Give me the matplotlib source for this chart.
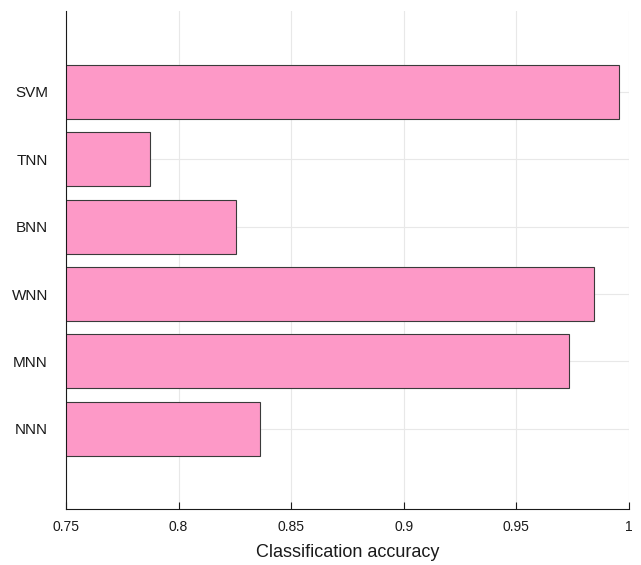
import matplotlib.pyplot as plt
plt.rcParams['font.family'] = ['Liberation Sans', 'DejaVu Sans']

models = ['NNN', 'MNN', 'WNN', 'BNN', 'TNN', 'SVM']
accuracy = [0.8361, 0.9735, 0.9845, 0.8255, 0.7872, 0.9957]
xticks = [0.75, 0.8, 0.85, 0.9, 0.95, 1.0]
xticklabels = ['0.75', '0.8', '0.85', '0.9', '0.95', '1']

fig = plt.figure(figsize=(6.41, 5.65), dpi=100)
ax = fig.add_axes([0.103, 0.0991, 0.878, 0.8814])

pos = list(range(1, len(models) + 1))
ax.barh(pos, accuracy, height=0.8, color='#fd99c7', edgecolor='#3a3a3a',
        linewidth=0.8, zorder=2)

# grid under the bars, tick marks on top of them
for t in xticks:
    ax.axvline(t, color='#e8e8e8', linewidth=0.8, zorder=1)
for p in pos:
    ax.axhline(p, color='#e8e8e8', linewidth=0.8, zorder=1)

ax.set_xlim(0.75, 1.0)
ax.set_ylim(-0.19, 7.2)
ax.set_xticks(xticks)
ax.set_xticklabels(xticklabels)
ax.set_yticks(pos)
ax.set_yticklabels(models)
ax.tick_params(direction='in', length=5, width=0.8, labelsize=10, colors='#1a1a1a')
ax.tick_params(axis='y', pad=13, labelsize=11)
ax.tick_params(axis='x', pad=8)

for s in ['top', 'right']:
    ax.spines[s].set_visible(False)
for s in ['left', 'bottom']:
    ax.spines[s].set_color('#1a1a1a')
    ax.spines[s].set_linewidth(0.8)
    ax.spines[s].set_zorder(3)

ax.set_xlabel('Classification accuracy', fontsize=13, color='#1a1a1a', labelpad=7)

plt.savefig('out.png', dpi=100)
